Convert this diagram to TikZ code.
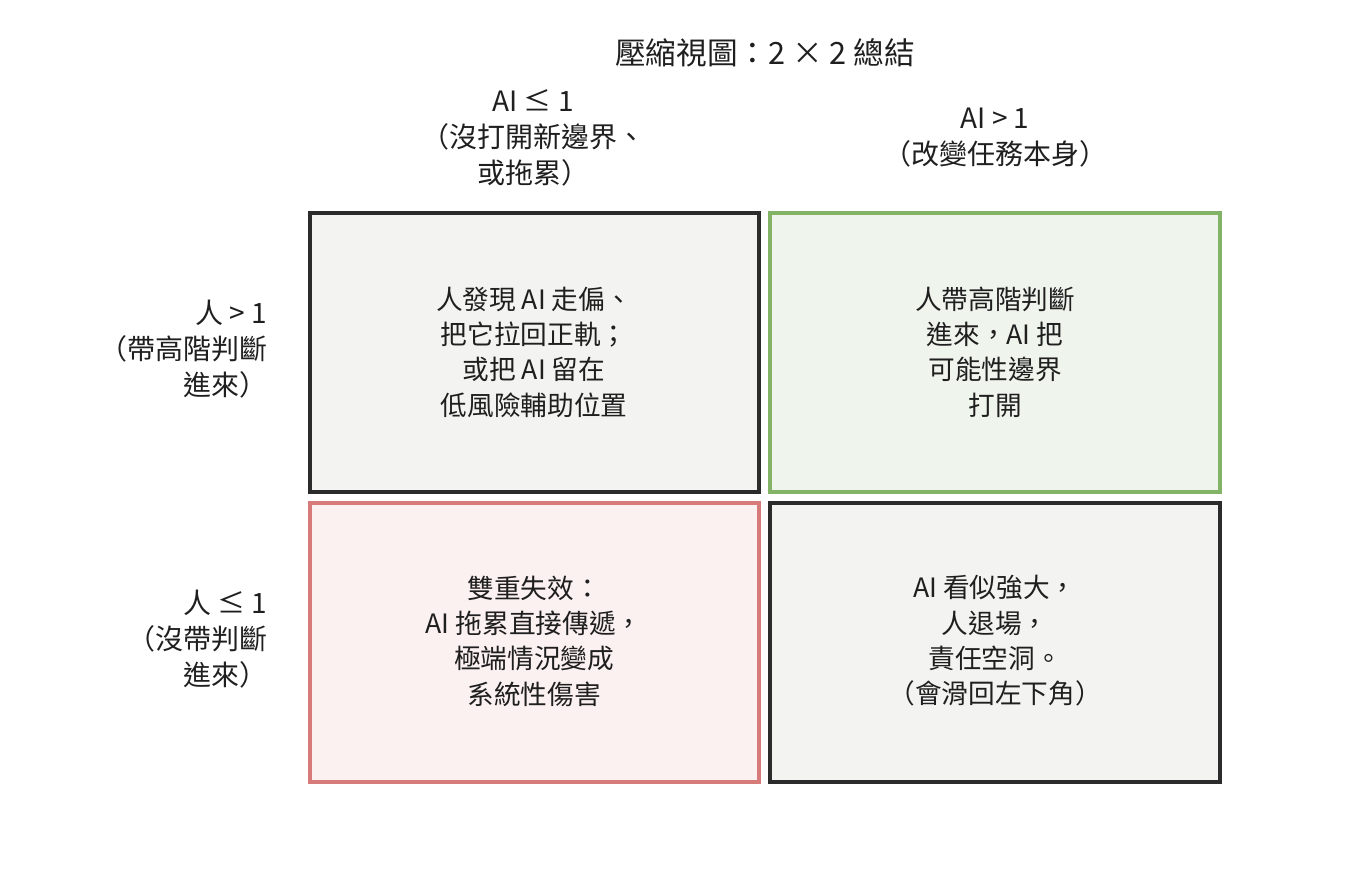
\documentclass[tikz,border=0pt]{standalone}
\usepackage{fontspec}
\setmainfont{Noto Sans CJK TC}
\begin{document}
\begin{tikzpicture}[x=0.75pt,y=-0.75pt,
 cell/.style={line width=3pt},
 txt/.style={align=center,font=\fontsize{20}{26.5}\selectfont,text=black!88},
 hdr/.style={align=center,font=\fontsize{21}{27}\selectfont,text=black!88}]
\useasboundingbox (0,0) rectangle (1357,886);
\definecolor{gfill}{HTML}{F3F3F2}\definecolor{gline}{HTML}{2B2B2B}
\definecolor{tfill}{HTML}{EFF5EC}\definecolor{tline}{HTML}{82B366}
\definecolor{rfill}{HTML}{FBF1F0}\definecolor{rline}{HTML}{D67A7A}
\node[hdr,font=\fontsize{23}{27}\selectfont] (title) at (765,53) {壓縮視圖：2 × 2 總結};
\node[hdr] (c1) at (533,138) {AI ≤ 1\\（沒打開新邊界、\\或拖累）};
\node[hdr] (c2) at (995,138) {AI > 1\\（改變任務本身）};
\node[hdr,align=right,anchor=east] (r1) at (272,349) {人 > 1\\（帶高階判斷\\進來）};
\node[hdr,align=right,anchor=east] (r2) at (272,639) {人 ≤ 1\\（沒帶判斷\\進來）};
\draw[cell,draw=gline,fill=gfill] (310,213) rectangle (759,492);
\draw[cell,draw=tline,fill=tfill] (770,213) rectangle (1220,492);
\draw[cell,draw=rline,fill=rfill] (310,503) rectangle (759,782);
\draw[cell,draw=gline,fill=gfill] (770,503) rectangle (1220,782);
\node[txt] (a) at (534,352) {人發現 AI 走偏、\\把它拉回正軌；\\或把 AI 留在\\低風險輔助位置};
\node[txt] (b) at (995,352) {人帶高階判斷\\進來，AI 把\\可能性邊界\\打開};
\node[txt] (c) at (534,641) {雙重失效：\\AI 拖累直接傳遞，\\極端情況變成\\系統性傷害};
\node[txt] (d) at (995,641) {AI 看似強大，\\人退場，\\責任空洞。\\（會滑回左下角）};
\end{tikzpicture}
\end{document}
